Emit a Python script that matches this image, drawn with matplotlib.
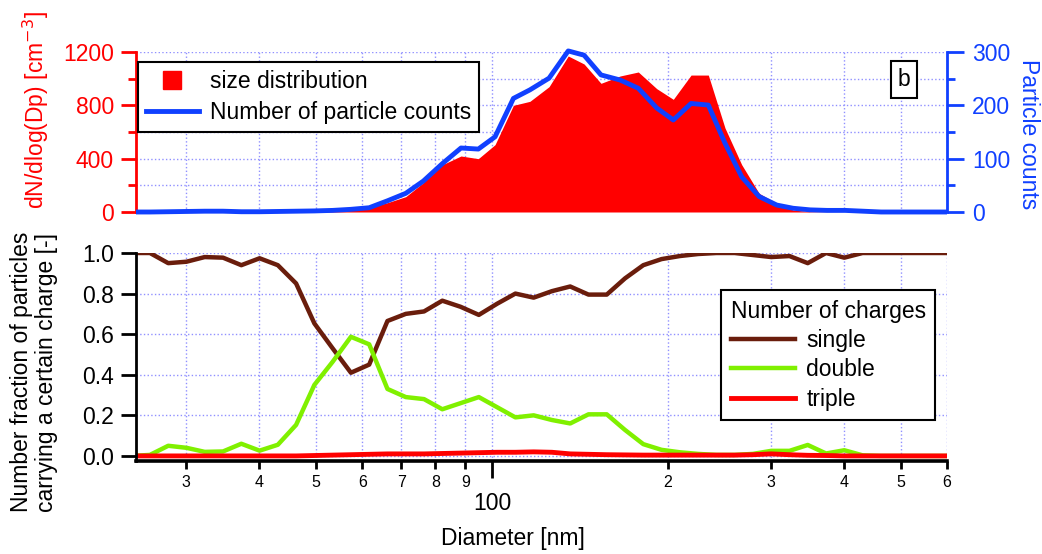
import matplotlib
matplotlib.use('Agg')
import matplotlib.pyplot as plt
from matplotlib.ticker import FixedLocator, FixedFormatter, MultipleLocator
from matplotlib.lines import Line2D
from matplotlib.patches import Rectangle

plt.rcParams['font.family'] = ['Liberation Sans', 'DejaVu Sans']

# ---- data ----
# bottom panel: charge fractions per mobility channel (nm)
diam = [24.19, 26.00, 27.94, 30.02, 32.26, 34.67, 37.26, 40.04, 43.02, 46.23,
        49.68, 53.39, 57.37, 61.65, 66.25, 71.20, 76.51, 82.22, 88.35, 94.94,
        102.03, 109.64, 117.82, 126.61, 136.06, 146.21, 157.12, 168.84, 181.44, 194.98,
        209.52, 225.16, 241.96, 260.01, 279.41, 300.25, 322.65, 346.73, 372.60, 400.40,
        430.27, 462.38, 496.87, 533.94, 573.78, 616.59]
single = [1.0, 1.0, 0.95, 0.957, 0.98, 0.977, 0.94, 0.974, 0.94, 0.85,
          0.653, 0.53, 0.41, 0.45, 0.665, 0.70, 0.712, 0.765, 0.735, 0.695,
          0.75, 0.80, 0.78, 0.812, 0.835, 0.795, 0.795, 0.875, 0.94, 0.97,
          0.985, 0.995, 1.0, 1.0, 0.99, 0.98, 0.985, 0.95, 1.0, 0.977,
          1.0, 1.0, 1.0, 1.0, 1.0, 1.0]
double = [0.0, 0.005, 0.05, 0.04, 0.02, 0.022, 0.06, 0.026, 0.055, 0.153,
          0.35, 0.464, 0.587, 0.55, 0.33, 0.29, 0.28, 0.23, 0.26, 0.29,
          0.24, 0.19, 0.20, 0.177, 0.16, 0.205, 0.205, 0.128, 0.058, 0.03,
          0.018, 0.01, 0.005, 0.005, 0.01, 0.025, 0.025, 0.054, 0.012, 0.028,
          0.003, 0.0, 0.0, 0.0, 0.0, 0.0]
triple = [0.0, 0.0, 0.0, 0.0, 0.0, 0.0, 0.0, 0.0, 0.0, 0.0,
          0.002, 0.004, 0.006, 0.008, 0.01, 0.01, 0.01, 0.012, 0.014, 0.016,
          0.018, 0.018, 0.02, 0.018, 0.01, 0.008, 0.006, 0.005, 0.004, 0.004,
          0.004, 0.004, 0.004, 0.004, 0.006, 0.01, 0.006, 0.003, 0.002, 0.0,
          0.0, 0.0, 0.0, 0.0, 0.0, 0.0]

# top panel: size distribution and raw counts
diam_top = [24.19, 26.00, 27.94, 30.02, 32.26, 34.67, 37.26, 40.04, 43.02, 46.23,
            49.68, 53.39, 57.37, 61.65, 66.25, 71.20, 76.3, 82.3, 88.5, 94.75,
            101.2, 108.8, 116.1, 125.2, 135.0, 143.7, 153.6, 165.6, 177.9, 191.3,
            204.2, 219.0, 234.4, 250.3, 267.3, 286.3, 306.9, 327.3, 350.0, 374.1,
            401.7, 431.1, 462.8, 496.7, 533.3, 574.4, 616.8]
dndlogdp = [0, 0, 0, 2, 4, 4, 0, 0, 4, 6,
            8, 6, 14, 35, 70, 115, 220, 355, 420, 400,
            505, 800, 830, 940, 1170, 1110, 965, 1020, 1050, 925,
            845, 1027, 1027, 630, 355, 140, 65, 15, 3, 1,
            0, 0, 0, 0, 0, 0, 0]
counts = [0, 0, 0.5, 1, 1.5, 1.5, 0.5, 0.5, 1, 1.5,
          2, 3, 5, 8, 21, 35, 58, 91, 120, 118,
          141, 213, 229, 251, 302, 294, 257, 247.5, 232, 195,
          172.5, 203.5, 200.5, 129, 66, 29, 13, 7, 4, 3,
          3, 1.5, 0, 0, 0, 0, 0]

minor_x = [30, 40, 50, 60, 70, 80, 90, 200, 300, 400, 500, 600]
minor_lbl = ['3', '4', '5', '6', '7', '8', '9', '2', '3', '4', '5', '6']

c_red = '#ff0000'
c_blue = '#1040ff'
c_brown = '#6a1d0c'
c_green = '#80f000'
c_grid = '#9090ff'

fig = plt.figure(figsize=(10.42, 5.54), dpi=100)
W, H = 1042, 554
ax_top = fig.add_axes([136 / W, 1 - 212 / H, 811 / W, 160 / H])
ax_bot = fig.add_axes([136 / W, 1 - 461 / H, 811 / W, 208 / H], sharex=ax_top)
ax2 = ax_top.twinx()

# top panel
ax_top.fill_between(diam_top, dndlogdp, 0, color=c_red, lw=0, zorder=2)
ln, = ax2.plot(diam_top, counts, color=c_blue, lw=3.5)
ax_top.set_xscale('log')
ax_top.set_xlim(24.61, 600)
ax_top.set_ylim(0, 1200)
ax2.set_ylim(0, 300)
# clip only left/right so the peak may poke over the top edge
ln.set_clip_path(Rectangle((0, -0.1), 1, 1.2, transform=ax2.transAxes))

ax_top.yaxis.set_major_locator(MultipleLocator(400))
ax_top.yaxis.set_minor_locator(MultipleLocator(200))
ax2.yaxis.set_major_locator(MultipleLocator(100))
ax2.yaxis.set_minor_locator(MultipleLocator(50))

for s in ['top', 'bottom', 'right']:
    ax_top.spines[s].set_visible(False)
for s in ['top', 'bottom', 'left']:
    ax2.spines[s].set_visible(False)
ax_top.spines['left'].set_color(c_red)
ax_top.spines['left'].set_linewidth(2)
ax2.spines['right'].set_color(c_blue)
ax2.spines['right'].set_linewidth(2)

ax_top.tick_params(axis='x', which='both', length=0, labelbottom=False)
ax_top.tick_params(axis='y', which='major', length=11, width=2, color=c_red,
                   labelcolor=c_red, labelsize=16.5, pad=5)
ax_top.tick_params(axis='y', which='minor', length=6, width=2, color=c_red)
ax2.tick_params(axis='y', which='major', length=12, width=2, color=c_blue,
                labelcolor=c_blue, labelsize=16.5, pad=6)
ax2.tick_params(axis='y', which='minor', length=6, width=2, color=c_blue)

ax_top.grid(True, which='both', color=c_grid, ls=':', lw=1, zorder=0)
ax_top.set_axisbelow(True)

handles = [Line2D([], [], marker='s', ls='none', color=c_red, markersize=13),
           Line2D([], [], color=c_blue, lw=3.5)]
leg1 = ax2.legend(handles, ['size distribution', 'Number of particle counts'],
                  loc='upper left', bbox_to_anchor=(0.0025, 0.94), borderaxespad=0,
                  fontsize=16.5, fancybox=False, framealpha=1, edgecolor='black',
                  handlelength=2.3, labelspacing=0.35, borderpad=0.35, handletextpad=0.5)
leg1.get_frame().set_linewidth(1.5)

ax2.text(0.947, 0.83, 'b', transform=ax2.transAxes, fontsize=16.5, ha='center', va='center',
         bbox=dict(boxstyle='square,pad=0.3', fc='white', ec='black', lw=1.5))

# bottom panel
ax_bot.plot(diam, single, color=c_brown, lw=3.2, label='single')
ax_bot.plot(diam, double, color=c_green, lw=3.2, label='double')
ax_bot.plot(diam, triple, color=c_red, lw=3.5, label='triple')
ax_bot.set_ylim(-0.025, 1.0)
ax_bot.set_yticks([0, 0.2, 0.4, 0.6, 0.8, 1.0])
ax_bot.set_yticklabels(['0.0', '0.2', '0.4', '0.6', '0.8', '1.0'])

ax_bot.xaxis.set_major_locator(FixedLocator([100]))
ax_bot.xaxis.set_major_formatter(FixedFormatter(['100']))
ax_bot.xaxis.set_minor_locator(FixedLocator(minor_x))
ax_bot.xaxis.set_minor_formatter(FixedFormatter(minor_lbl))

for s in ['top', 'right']:
    ax_bot.spines[s].set_visible(False)
ax_bot.spines['left'].set_linewidth(2)
ax_bot.spines['bottom'].set_linewidth(2.6)
ax_bot.tick_params(axis='y', length=11, width=2, labelsize=16.5, pad=5)
ax_bot.tick_params(axis='x', which='major', length=12, width=2, labelsize=16.5, pad=10)
ax_bot.tick_params(axis='x', which='minor', length=6, width=2, labelsize=11.5, pad=4)
ax_bot.grid(True, which='both', color=c_grid, ls=':', lw=1)
ax_bot.set_axisbelow(True)

leg2 = ax_bot.legend(loc='lower right', bbox_to_anchor=(0.985, 0.197), borderaxespad=0,
                     title='Number of charges', title_fontsize=16.5, fontsize=16.5,
                     fancybox=False, framealpha=1, edgecolor='black', alignment='left',
                     handlelength=2.8, labelspacing=0.28, borderpad=0.4, handletextpad=0.5)
leg2.get_frame().set_linewidth(1.5)

# axis titles
fig.text(36 / W, 1 - 110 / H, 'dN/dlog(Dp) [cm$^{-3}$]', color=c_red, fontsize=16.5,
         rotation=90, ha='center', va='center')
fig.text(1029 / W, 1 - 134 / H, 'Particle counts', color=c_blue, fontsize=16.5,
         rotation=-90, ha='center', va='center')
fig.text(34 / W, 1 - 372 / H, 'Number fraction of particles\ncarrying a certain charge [-]',
         fontsize=16.5, rotation=90, ha='center', va='center', linespacing=1.1)
fig.text(513 / W, 1 - 538 / H, 'Diameter [nm]', fontsize=16.5, ha='center', va='center')

fig.savefig('out.png', dpi=100)
